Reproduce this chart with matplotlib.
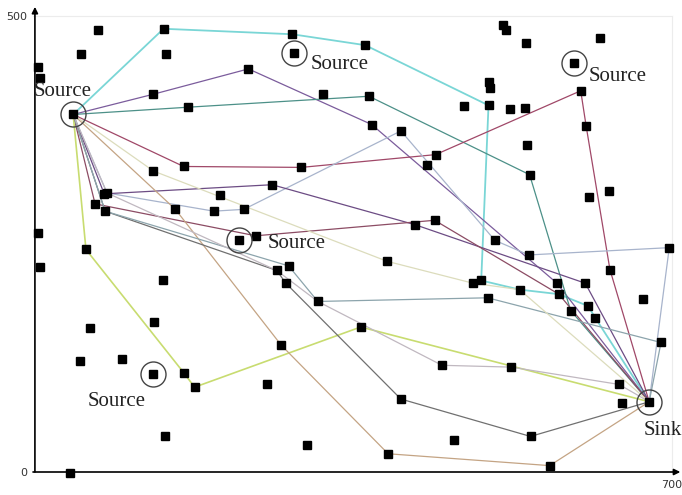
import matplotlib
matplotlib.use("Agg")
import matplotlib.pyplot as plt

# Sensor node positions (field units, 700 x 500)
node_x = [71, 143, 284, 53, 146, 286, 5, 8, 236, 131,
          318, 368, 170, 44, 165, 294, 132, 262, 205, 78,
          81, 68, 156, 198, 231, 79, 5, 226, 244, 58,
          515, 518, 540, 621, 364, 593, 600, 499, 501, 472,
          499, 522, 539, 371, 606, 403, 541, 441, 432, 544,
          631, 609, 440, 419, 506, 697, 8, 267, 280, 277,
          142, 312, 62, 133, 272, 51, 98, 131, 165, 177,
          256, 145, 300, 41, 543, 388, 632, 482, 491, 533,
          574, 605, 498, 576, 608, 589, 616, 668, 688, 359,
          448, 524, 642, 645, 675, 403, 461, 545, 389, 566]
node_y = [485, 486, 480, 458, 458, 459, 444, 432, 442, 414,
          414, 412, 400, 392, 335, 334, 330, 315, 304, 305,
          306, 294, 288, 286, 288, 286, 262, 254, 259, 244,
          490, 485, 470, 476, 468, 448, 418, 428, 421, 401,
          402, 398, 399, 381, 379, 374, 359, 348, 337, 326,
          308, 301, 276, 271, 254, 246, 225, 221, 226, 207,
          210, 187, 158, 164, 139, 122, 124, 108, 109, 93,
          96, 40, 30, -1, 238, 231, 222, 207, 210, 200,
          207, 207, 191, 195, 182, 177, 169, 190, 142, 159,
          117, 115, 96, 76, 77, 80, 35, 39, 20, 7]

# Event sources and the sink (indices into the node arrays)
source_ids = [13, 5, 35, 27, 67]
sink_id = 94
source_label = "Source"
sink_label = "Sink"

# Routing paths from the main source to the sink (node index sequences)
paths = [
    [13, 1, 2, 34, 40, 78, 79, 83, 84, 86, 94],
    [13, 9, 8, 43, 80, 94],
    [13, 12, 11, 49, 85, 94],
    [13, 14, 15, 47, 36, 44, 76, 94],
    [13, 20, 23, 24, 45, 54, 74, 55, 94],
    [13, 19, 17, 53, 81, 94],
    [13, 21, 28, 52, 83, 94],
    [13, 29, 68, 69, 89, 94],
    [13, 22, 64, 98, 99, 94],
    [13, 25, 57, 59, 95, 97, 94],
    [13, 25, 58, 61, 82, 88, 94],
    [13, 16, 75, 77, 79, 94],
    [13, 20, 57, 61, 90, 91, 92, 94],
]
path_colors = ['#7ad6d6', '#7b5c9c', '#4c9088', '#a04868', '#a8b4cc',
               '#6c4c84', '#8c4c64', '#c8dc70', '#c4a484', '#707070',
               '#8ca4ac', '#dcdcbc', '#c0b8c0']
path_widths = [1.3, 0.9, 0.9, 0.9, 0.9, 0.9, 0.9, 1.2, 0.9, 0.9, 0.9, 0.9, 0.9]

x_ticks = [700]
y_ticks = [0, 500]

fig = plt.figure(figsize=(6.82, 4.95), dpi=100)
ax = fig.add_axes([33 / 682, 23 / 495, 639 / 682, 456 / 495])
ax.set_xlim(0, 700)
ax.set_ylim(0, 500)

for path, col, lw in zip(paths, path_colors, path_widths):
    ax.plot([node_x[i] for i in path], [node_y[i] for i in path],
            color=col, lw=lw, zorder=2, clip_on=False)

ax.plot(node_x, node_y, 's', color='black', ms=5.2, zorder=3, clip_on=False)

# Rings around sources and the sink
ring_ids = source_ids + [sink_id]
ax.plot([node_x[i] for i in ring_ids], [node_y[i] for i in ring_ids], 'o',
        ms=18, mfc='none', mec='#444444', mew=1.0, zorder=4, clip_on=False)

# Text labels next to the rings
label_font = dict(family='Liberation Serif', fontsize=15, color='#222222')
label_offsets = {13: (-12, 25, 'center'), 5: (18, -12, 'left'),
                 35: (16, -14, 'left'), 27: (31, -4, 'left'),
                 67: (-39, -31, 'center')}
for i in source_ids:
    dx, dy, ha = label_offsets[i]
    ax.text(node_x[i] + dx, node_y[i] + dy, source_label, ha=ha, va='center',
            zorder=5, clip_on=False, **label_font)
ax.text(node_x[sink_id] - 6, node_y[sink_id] - 32, sink_label, ha='left',
        va='center', zorder=5, clip_on=False, **label_font)

# Axes: arrows on left and bottom, faint frame on top and right
for side in ('left', 'bottom'):
    ax.spines[side].set_visible(False)
for side in ('top', 'right'):
    ax.spines[side].set_color('#ececec')
    ax.spines[side].set_linewidth(0.8)

arrow = dict(arrowstyle='-|>', color='black', lw=1.2, mutation_scale=9,
             shrinkA=0, shrinkB=0)
ax.annotate('', xy=(0.003, 1.02), xytext=(0.003, 0), xycoords='axes fraction',
            arrowprops=arrow, annotation_clip=False)
ax.annotate('', xy=(1.013, 0.0), xytext=(0, 0.0), xycoords='axes fraction',
            arrowprops=arrow, annotation_clip=False)

ax.set_xticks(x_ticks)
ax.set_yticks(y_ticks)
ax.set_xticklabels([str(v) for v in x_ticks])
ax.set_yticklabels([str(v) for v in y_ticks])
ax.tick_params(length=0, labelsize=8, labelcolor='#333333')
ax.tick_params(axis='x', pad=6)
ax.tick_params(axis='y', pad=4)

fig.savefig('out.png', dpi=100, facecolor='white')
